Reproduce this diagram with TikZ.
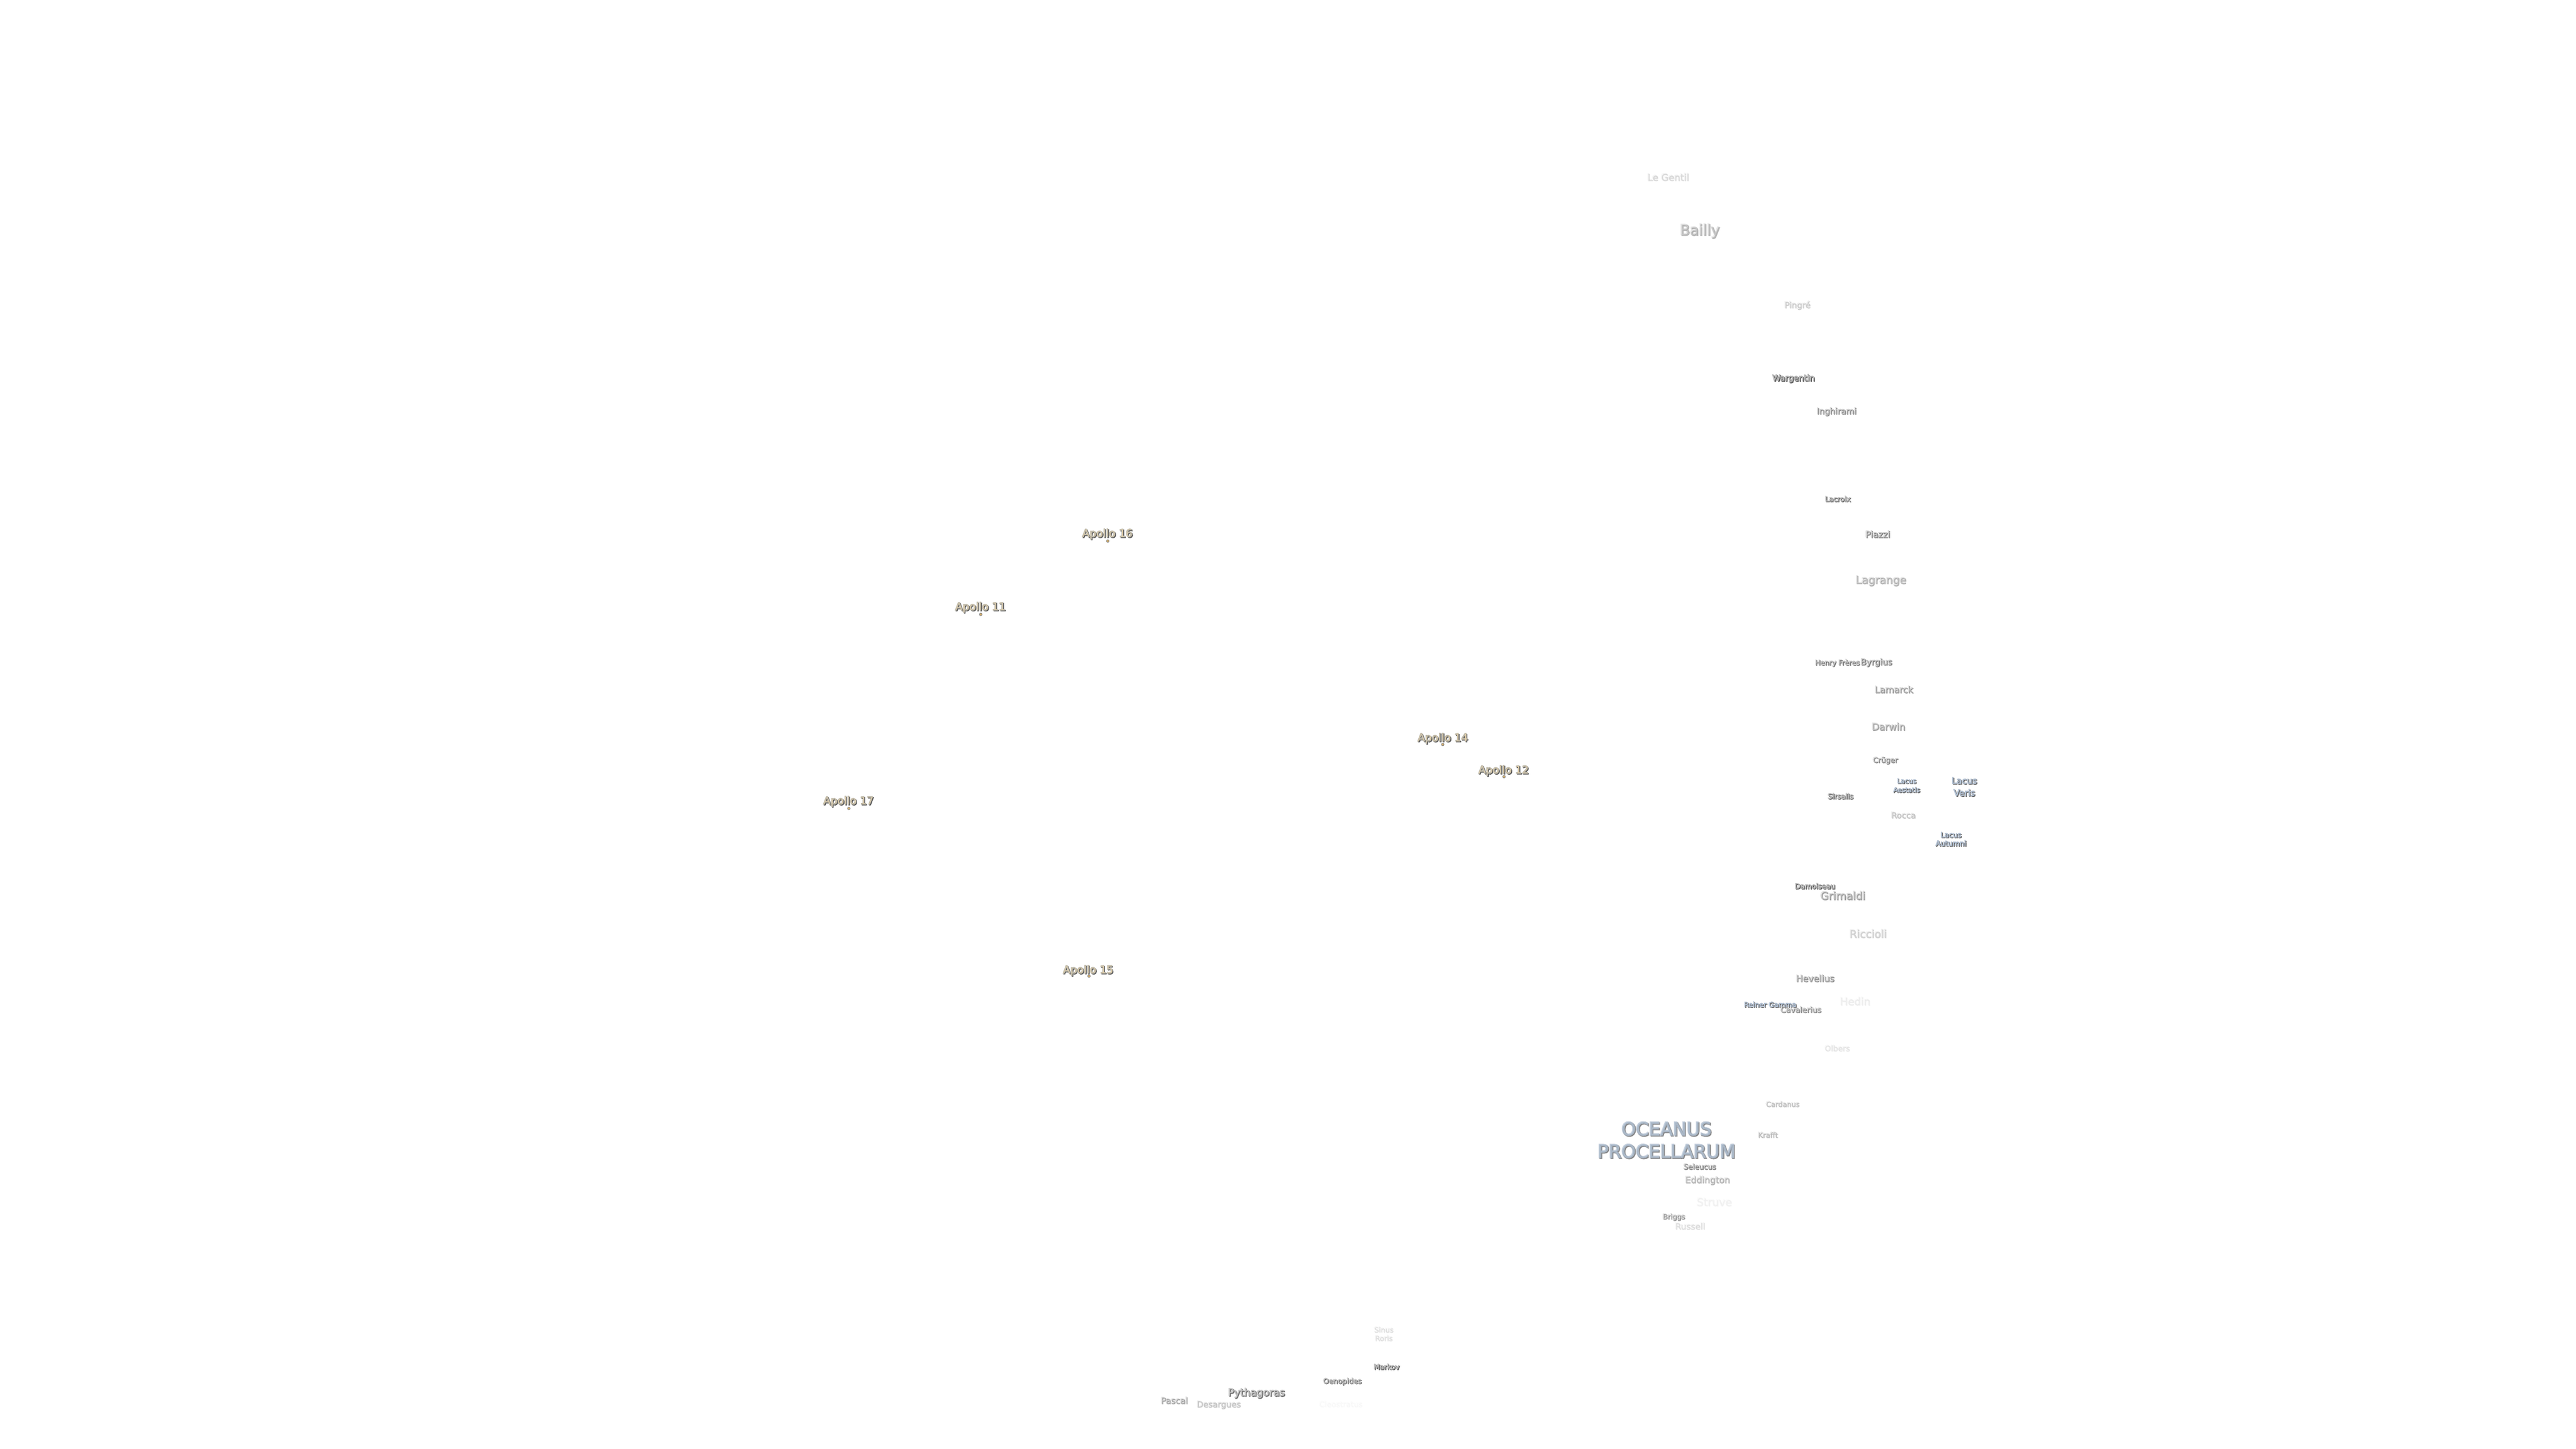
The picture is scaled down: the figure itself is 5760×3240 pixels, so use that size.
\documentclass[tikz,border=0pt]{standalone}
\usepackage{fontspec}
\newfontfamily\labfont[FakeBold=6]{DejaVu Sans}
\newcommand\sz[2]{\fontsize{#1}{#2}\selectfont\labfont}
\newcommand\lblit[3]{\leavevmode\rlap{\special{pdf:code 0.35 0.35 0.35 RG 0.35 0.35 0.35 rg}\kern1.8pt\raisebox{-1.8pt}{#3}}\special{pdf:code #1 RG #2 rg}#3}
\newcommand\crat[1]{\lblit{0.70 0.70 0.70}{1 1 1}{#1}}
\newcommand\mar[1]{\lblit{0.68 0.73 0.80}{0.76 0.86 0.95}{#1}}
\newcommand\apo[1]{\lblit{0.74 0.72 0.66}{1 0.88 0.66}{#1}}
\tikzset{
 lbl/.style={inner sep=0pt,outer sep=0pt,align=center},
 apdot/.style={circle,inner sep=0pt,minimum size=6pt,fill={rgb,255:red,214;green,176;blue,110},draw=gray,line width=1pt},
}
\begin{document}
\begin{tikzpicture}[x=1pt,y=-1pt]
\useasboundingbox (0,0) rectangle (5760,3240);
\fill[white] (0,0) rectangle (5760,3240);
\node[lbl,opacity=.12,font={\sz{21}{25}}] (legentil) at (3729,396) {\crat{Le Gentil}};
\node[lbl,opacity=.3,font={\sz{32.6}{38}}] (bailly) at (3800,517) {\crat{Bailly}};
\node[lbl,opacity=.18,font={\sz{18.6}{22}}] (pingre) at (4018,683) {\crat{Pingré}};
\node[lbl,opacity=1,font={\sz{18.5}{22}}] (wargentin) at (4010,847) {\crat{Wargentin}};
\node[lbl,opacity=.5,font={\sz{18.7}{22}}] (inghirami) at (4106,921) {\crat{Inghirami}};
\node[lbl,opacity=.75,font={\sz{15.9}{19}}] (lacroix) at (4109,1116) {\crat{Lacroix}};
\node[lbl,opacity=.55,font={\sz{19.7}{24}}] (piazzi) at (4198,1195) {\crat{Piazzi}};
\node[lbl,opacity=.3,font={\sz{24}{29}}] (lagrange) at (4205,1299) {\crat{Lagrange}};
\node[lbl,opacity=.65,font={\sz{15.7}{19}}] (henry) at (4108,1483) {\crat{Henry Frères}};
\node[lbl,opacity=.6,font={\sz{18.8}{22}}] (byrgius) at (4195,1482) {\crat{Byrgius}};
\node[lbl,opacity=.42,font={\sz{20}{24}}] (lamarck) at (4234,1542) {\crat{Lamarck}};
\node[lbl,opacity=.4,font={\sz{21.2}{25}}] (darwin) at (4222,1625) {\crat{Darwin}};
\node[lbl,opacity=.5,font={\sz{16.3}{19}}] (cruger) at (4215,1701) {\crat{Crüger}};
\node[lbl,opacity=.85,font={\sz{14.9}{20}}] (aestatis) at (4263,1757) {\mar{Lacus}\\\mar{Aestatis}};
\node[lbl,opacity=.85,font={\sz{19.7}{27}}] (veris) at (4392,1760) {\mar{Lacus}\\\mar{Veris}};
\node[lbl,opacity=.85,font={\sz{16.1}{19}}] (sirsalis) at (4115,1781) {\crat{Sirsalis}};
\node[lbl,opacity=.22,font={\sz{18.4}{22}}] (rocca) at (4255,1823) {\crat{Rocca}};
\node[lbl,opacity=.9,font={\sz{16.2}{19}}] (autumni) at (4362,1877) {\mar{Lacus}\\\mar{Autumni}};
\node[lbl,opacity=.95,font={\sz{16}{19}}] (damoiseau) at (4058,1982) {\crat{Damoiseau}};
\node[lbl,opacity=.4,font={\sz{23.7}{28}}] (grimaldi) at (4120,2003) {\crat{Grimaldi}};
\node[lbl,opacity=.16,font={\sz{23.7}{28}}] (riccioli) at (4176,2088) {\crat{Riccioli}};
\node[lbl,opacity=.45,font={\sz{20}{24}}] (hevelius) at (4058,2188) {\crat{Hevelius}};
\node[lbl,opacity=.05,font={\sz{23.3}{28}}] (hedin) at (4147,2239) {\crat{Hedin}};
\node[lbl,opacity=.85,font={\sz{15.7}{19}}] (reiner) at (3958,2247) {\mar{Reiner Gamma}};
\node[lbl,opacity=.5,font={\sz{17.4}{21}}] (cavalerius) at (4026,2258) {\crat{Cavalerius}};
\node[lbl,opacity=.08,font={\sz{17.3}{21}}] (olbers) at (4107,2344) {\crat{Olbers}};
\node[lbl,opacity=.22,font={\sz{15.8}{19}}] (cardanus) at (3985,2469) {\crat{Cardanus}};
\node[lbl,opacity=.6,font={\sz{41}{50}}] (oceanus) at (3726,2550) {\mar{OCEANUS}\\\mar{PROCELLARUM}};
\node[lbl,opacity=.25,font={\sz{16}{19}}] (krafft) at (3952,2538) {\crat{Krafft}};
\node[lbl,opacity=.55,font={\sz{16.2}{19}}] (seleucus) at (3800,2609) {\crat{Seleucus}};
\node[lbl,opacity=.28,font={\sz{19.7}{24}}] (eddington) at (3817,2640) {\crat{Eddington}};
\node[lbl,opacity=.04,font={\sz{24}{29}}] (struve) at (3832,2688) {\crat{Struve}};
\node[lbl,opacity=.45,font={\sz{15.7}{19}}] (briggs) at (3742,2722) {\crat{Briggs}};
\node[lbl,opacity=.1,font={\sz{19.2}{23}}] (russell) at (3778,2742) {\crat{Russell}};
\node[lbl,opacity=.1,font={\sz{15.9}{19}}] (roris) at (3093,2983) {\crat{Sinus}\\\crat{Roris}};
\node[lbl,opacity=.9,font={\sz{15.8}{19}}] (markov) at (3100,3057) {\crat{Markov}};
\node[lbl,opacity=.7,font={\sz{16.1}{19}}] (oenopides) at (3001,3090) {\crat{Oenopides}};
\node[lbl,opacity=.7,font={\sz{22.6}{27}}] (pythagoras) at (2809,3116) {\crat{Pythagoras}};
\node[lbl,opacity=.35,font={\sz{19.2}{23}}] (pascal) at (2625,3132) {\crat{Pascal}};
\node[lbl,opacity=.2,font={\sz{18.5}{22}}] (desargues) at (2724,3142) {\crat{Desargues}};
\node[lbl,opacity=.015,font={\sz{17}{20}}] (cleostratus) at (2997,3140) {\crat{Cleostratus}};
\node[lbl,font={\sz{24}{29}}] (a14) at (3226,1652) {\apo{Apollo 14}};
\node[lbl,font={\sz{24}{29}}] (a12) at (3362,1724) {\apo{Apollo 12}};
\node[lbl,font={\sz{24}{29}}] (a16) at (2476,1195) {\apo{Apollo 16}};
\node[lbl,font={\sz{24}{29}}] (a11) at (2192,1359) {\apo{Apollo 11}};
\node[lbl,font={\sz{24}{29}}] (a17) at (1897,1793) {\apo{Apollo 17}};
\node[lbl,font={\sz{24}{29}}] (a15) at (2433,2171) {\apo{Apollo 15}};
\node[apdot] (d14) at (3226,1665) {};
\node[apdot] (d12) at (3363,1737) {};
\node[apdot] (d16) at (2477,1210) {};
\node[apdot] (d11) at (2193,1374) {};
\node[apdot] (d17) at (1898,1808) {};
\node[apdot] (d15) at (2435,2183) {};
\end{tikzpicture}
\end{document}
